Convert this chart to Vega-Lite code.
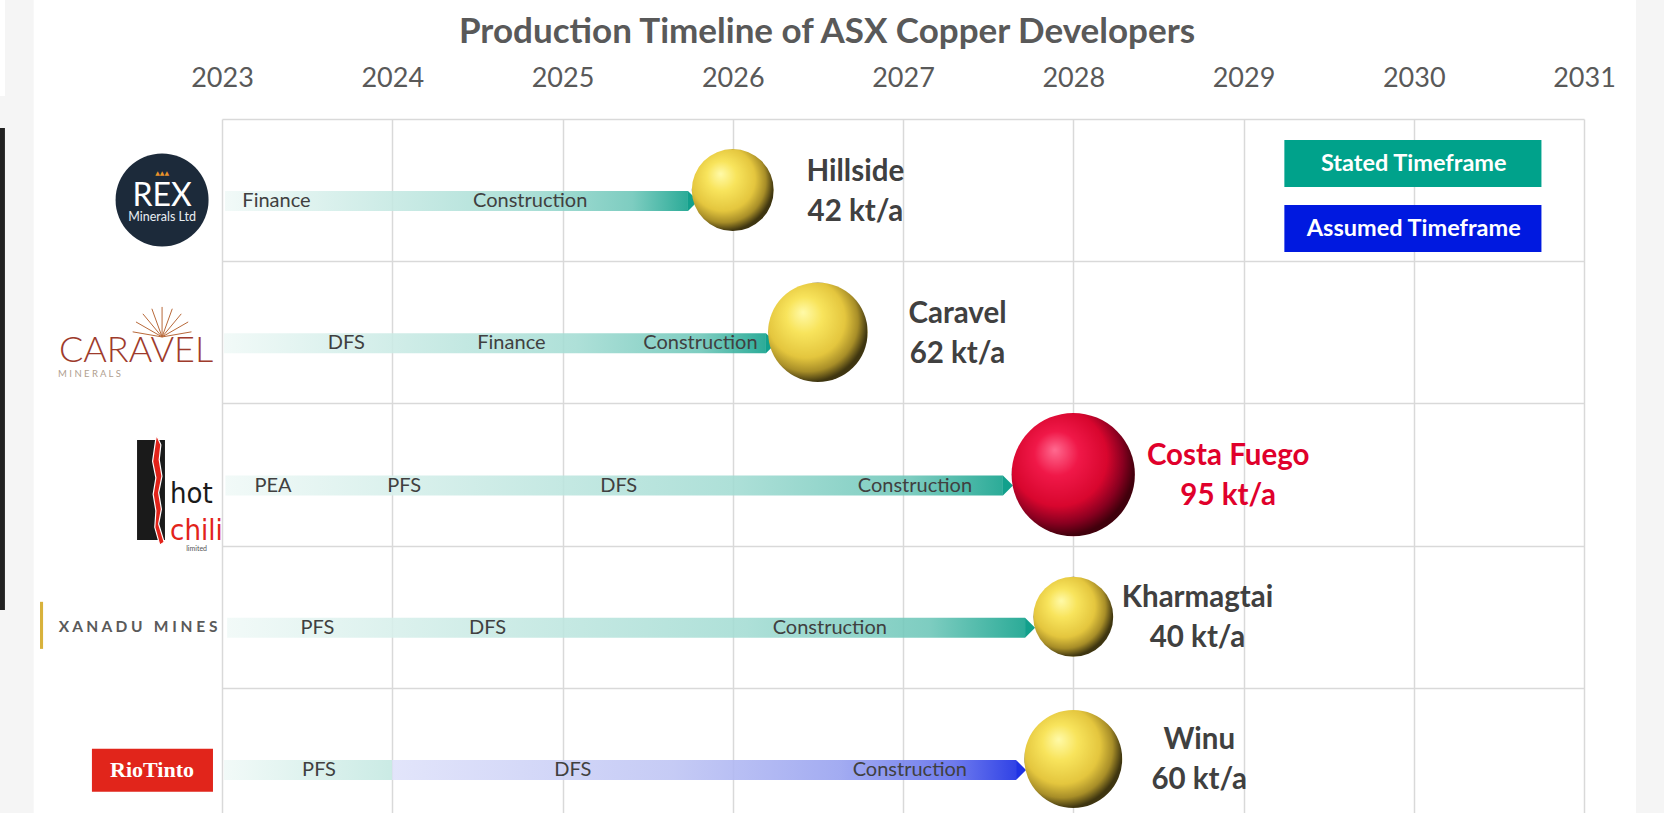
{
  "$schema": "https://vega.github.io/schema/vega-lite/v6.json",
  "width": 1362,
  "height": 694,
  "autosize": {"type": "none"},
  "padding": {"left": 222, "top": 119, "right": 80, "bottom": 0},
  "background": "#ffffff",
  "title": {
    "text": "Production Timeline of ASX Copper Developers",
    "font": "Lato", "fontSize": 35, "fontWeight": "bold", "color": "#595959",
    "anchor": "middle", "dx": -76, "offset": -78, "baseline": "alphabetic"
  },
  "config": {"view": {"stroke": null}, "font": "Lato"},
  "datasets": {
    "projects": [
      {"company": "Rex Minerals", "project": "Hillside", "capacity": 42, "row": 0.5, "year": 2026.0, "label_year": 2026.72, "label": "Hillside\n42 kt/a"},
      {"company": "Caravel Minerals", "project": "Caravel", "capacity": 62, "row": 1.5, "year": 2026.5, "label_year": 2027.32, "label": "Caravel\n62 kt/a"},
      {"company": "Hot Chili", "project": "Costa Fuego", "capacity": 95, "row": 2.5, "year": 2028.0, "label_year": 2028.91, "label": "Costa Fuego\n95 kt/a"},
      {"company": "Xanadu Mines", "project": "Kharmagtai", "capacity": 40, "row": 3.5, "year": 2028.0, "label_year": 2028.73, "label": "Kharmagtai\n40 kt/a"},
      {"company": "Rio Tinto", "project": "Winu", "capacity": 60, "row": 4.5, "year": 2028.0, "label_year": 2028.74, "label": "Winu\n60 kt/a"}
    ],
    "segments": [
      {"project": "Hillside", "row": 0.5, "start": 2023.018, "end": 2025.737, "kind": "stated"},
      {"project": "Caravel", "row": 1.5, "start": 2023.012, "end": 2026.195, "kind": "stated"},
      {"project": "Costa Fuego", "row": 2.5, "start": 2023.02, "end": 2027.587, "kind": "stated"},
      {"project": "Kharmagtai", "row": 3.5, "start": 2023.03, "end": 2027.717, "kind": "stated"},
      {"project": "Winu", "row": 4.5, "start": 2023.012, "end": 2024.0, "kind": "stated_part"},
      {"project": "Winu", "row": 4.5, "start": 2024.0, "end": 2027.664, "kind": "assumed"}
    ],
    "phases": [
      {"project": "Hillside", "row": 0.5, "phase": "Finance", "x": 2023.32},
      {"project": "Hillside", "row": 0.5, "phase": "Construction", "x": 2024.81},
      {"project": "Caravel", "row": 1.5, "phase": "DFS", "x": 2023.73},
      {"project": "Caravel", "row": 1.5, "phase": "Finance", "x": 2024.70},
      {"project": "Caravel", "row": 1.5, "phase": "Construction", "x": 2025.81},
      {"project": "Costa Fuego", "row": 2.5, "phase": "PEA", "x": 2023.30},
      {"project": "Costa Fuego", "row": 2.5, "phase": "PFS", "x": 2024.07},
      {"project": "Costa Fuego", "row": 2.5, "phase": "DFS", "x": 2025.33},
      {"project": "Costa Fuego", "row": 2.5, "phase": "Construction", "x": 2027.07},
      {"project": "Kharmagtai", "row": 3.5, "phase": "PFS", "x": 2023.56},
      {"project": "Kharmagtai", "row": 3.5, "phase": "DFS", "x": 2024.56},
      {"project": "Kharmagtai", "row": 3.5, "phase": "Construction", "x": 2026.57},
      {"project": "Winu", "row": 4.5, "phase": "PFS", "x": 2023.57},
      {"project": "Winu", "row": 4.5, "phase": "DFS", "x": 2025.06},
      {"project": "Winu", "row": 4.5, "phase": "Construction", "x": 2027.04}
    ]
  },
  "layer": [
    {
      "data": {"values": [{}]},
      "mark": {"type": "rect", "fill": "#f5f5f5"},
      "encoding": {
        "x": {"datum": 2021.4, "type": "quantitative", "title": null},
        "x2": {"datum": 2021.894},
        "y": {"datum": -0.8366, "type": "quantitative", "title": null},
        "y2": {"datum": 5.2}
      }
    },
    {
      "data": {"values": [{}]},
      "mark": {"type": "rect", "fill": "#f5f5f5"},
      "encoding": {
        "x": {"datum": 2031.305, "type": "quantitative", "title": null},
        "x2": {"datum": 2031.7},
        "y": {"datum": -0.8366, "type": "quantitative", "title": null},
        "y2": {"datum": 5.2}
      }
    },
    {
      "data": {"values": [{}]},
      "mark": {"type": "rect", "fill": "#ffffff"},
      "encoding": {
        "x": {"datum": 2021.4, "type": "quantitative", "title": null},
        "x2": {"datum": 2021.725},
        "y": {"datum": -0.8366, "type": "quantitative", "title": null},
        "y2": {"datum": -0.162}
      }
    },
    {
      "data": {"values": [{}]},
      "mark": {"type": "rect", "fill": "#222222"},
      "encoding": {
        "x": {"datum": 2021.4, "type": "quantitative", "title": null},
        "x2": {"datum": 2021.725},
        "y": {"datum": 0.063, "type": "quantitative", "title": null},
        "y2": {"datum": 3.452}
      }
    },
    {
      "data": {"name": "segments"},
      "transform": [{"filter": "datum.kind === 'stated'"}],
      "mark": {
        "type": "rect", "yOffset": 1, "y2Offset": 21, "opacity": 0.88,
        "fill": {"gradient": "linear", "x1": 0, "y1": 0, "x2": 1, "y2": 0,
          "stops": [
            {"offset": 0, "color": "#f0f9f7"},
            {"offset": 0.35, "color": "#c6e9e3"},
            {"offset": 0.65, "color": "#a3dcd3"},
            {"offset": 0.88, "color": "#6cc6b8"},
            {"offset": 1, "color": "#0fa08a"}
          ]}
      },
      "encoding": {
        "x": {
          "field": "start", "type": "quantitative", "title": null,
          "scale": {"domain": [2023, 2031], "nice": false, "zero": false},
          "axis": {
            "orient": "top", "values": [2023, 2024, 2025, 2026, 2027, 2028, 2029, 2030, 2031],
            "format": "d", "labelFont": "Lato", "labelFontSize": 27, "labelColor": "#595959",
            "labelBaseline": "alphabetic", "labelPadding": 33, "ticks": false, "tickSize": 0,
            "domain": false, "grid": true, "gridColor": "#d9d9d9", "gridWidth": 1.5,
            "labelFlush": false, "labelOverlap": false, "title": null
          }
        },
        "x2": {"field": "end"},
        "y": {
          "field": "row", "type": "quantitative", "title": null,
          "scale": {"domain": [0, 4.88], "reverse": true, "nice": false, "zero": false},
          "axis": {
            "values": [0, 1, 2, 3, 4], "labels": false, "ticks": false, "tickSize": 0,
            "domain": false, "grid": true, "gridColor": "#d9d9d9", "gridWidth": 1.5, "title": null
          }
        },
        "y2": {"field": "row"}
      }
    },
    {
      "data": {"name": "segments"},
      "transform": [{"filter": "datum.kind === 'stated_part'"}],
      "mark": {
        "type": "rect", "yOffset": 1, "y2Offset": 21, "opacity": 0.88,
        "fill": {"gradient": "linear", "x1": 0, "y1": 0, "x2": 1, "y2": 0,
          "stops": [
            {"offset": 0, "color": "#f0f9f7"},
            {"offset": 1, "color": "#c3e8e1"}
          ]}
      },
      "encoding": {
        "x": {"field": "start", "type": "quantitative", "title": null},
        "x2": {"field": "end"},
        "y": {"field": "row", "type": "quantitative", "title": null},
        "y2": {"field": "row"}
      }
    },
    {
      "data": {"name": "segments"},
      "transform": [{"filter": "datum.kind === 'assumed'"}],
      "mark": {
        "type": "rect", "yOffset": 1, "y2Offset": 21, "opacity": 0.9,
        "fill": {"gradient": "linear", "x1": 0, "y1": 0, "x2": 1, "y2": 0,
          "stops": [
            {"offset": 0, "color": "#dfe2fa"},
            {"offset": 0.45, "color": "#bfc5f4"},
            {"offset": 0.72, "color": "#98a2f0"},
            {"offset": 0.9, "color": "#5e6cec"},
            {"offset": 1, "color": "#1a2ee3"}
          ]}
      },
      "encoding": {
        "x": {"field": "start", "type": "quantitative", "title": null},
        "x2": {"field": "end"},
        "y": {"field": "row", "type": "quantitative", "title": null},
        "y2": {"field": "row"}
      }
    },
    {
      "data": {"name": "segments"},
      "transform": [{"filter": "datum.kind !== 'stated_part'"}],
      "mark": {
        "type": "point", "shape": "M-0.5,-1L0.5,0L-0.5,1Z", "size": 400,
        "filled": true, "strokeWidth": 0, "opacity": 1, "xOffset": 5, "yOffset": 11
      },
      "encoding": {
        "x": {"field": "end", "type": "quantitative", "title": null},
        "y": {"field": "row", "type": "quantitative", "title": null},
        "fill": {"condition": {"test": "datum.kind === 'assumed'", "value": "#1f33e4"}, "value": "#12a08c"}
      }
    },
    {
      "data": {"name": "phases"},
      "mark": {"type": "text", "font": "Lato", "fontSize": 20, "color": "#404040", "align": "center", "baseline": "middle", "dy": 11},
      "encoding": {
        "x": {"field": "x", "type": "quantitative", "title": null},
        "y": {"field": "row", "type": "quantitative", "title": null},
        "text": {"field": "phase"}
      }
    },
    {
      "data": {"name": "projects"},
      "transform": [{"filter": "datum.project !== 'Costa Fuego'"}],
      "mark": {
        "type": "point", "shape": "circle", "filled": true, "strokeWidth": 0, "opacity": 1,
        "fill": {"gradient": "radial", "x1": 0.35, "y1": 0.3, "r1": 0, "x2": 0.4, "y2": 0.4, "r2": 0.6,
          "stops": [
            {"offset": 0, "color": "#fffaa8"},
            {"offset": 0.3, "color": "#f8e45c"},
            {"offset": 0.65, "color": "#e4c63e"},
            {"offset": 0.85, "color": "#a88e28"},
            {"offset": 1, "color": "#3e3510"}
          ]}
      },
      "encoding": {
        "x": {"field": "year", "type": "quantitative", "title": null},
        "y": {"field": "row", "type": "quantitative", "title": null},
        "size": {"field": "capacity", "type": "quantitative", "scale": {"type": "linear", "domain": [0, 100], "range": [0, 16000]}, "legend": null}
      }
    },
    {
      "data": {"name": "projects"},
      "transform": [{"filter": "datum.project === 'Costa Fuego'"}],
      "mark": {
        "type": "point", "shape": "circle", "filled": true, "strokeWidth": 0, "opacity": 1,
        "fill": {"gradient": "radial", "x1": 0.35, "y1": 0.3, "r1": 0, "x2": 0.4, "y2": 0.4, "r2": 0.6,
          "stops": [
            {"offset": 0, "color": "#ff6a90"},
            {"offset": 0.3, "color": "#f01848"},
            {"offset": 0.65, "color": "#d8062e"},
            {"offset": 0.85, "color": "#8a0020"},
            {"offset": 1, "color": "#40000c"}
          ]}
      },
      "encoding": {
        "x": {"field": "year", "type": "quantitative", "title": null},
        "y": {"field": "row", "type": "quantitative", "title": null},
        "size": {"field": "capacity", "type": "quantitative", "scale": {"type": "linear", "domain": [0, 100], "range": [0, 16000]}, "legend": null}
      }
    },
    {
      "data": {"name": "projects"},
      "mark": {"type": "text", "font": "Lato", "fontSize": 29.5, "fontWeight": "bold", "align": "center", "baseline": "middle", "lineBreak": "\n", "lineHeight": 40, "dy": -18.5},
      "encoding": {
        "x": {"field": "label_year", "type": "quantitative", "title": null},
        "y": {"field": "row", "type": "quantitative", "title": null},
        "text": {"field": "label"},
        "fill": {"condition": {"test": "datum.project === 'Costa Fuego'", "value": "#e0002b"}, "value": "#404040"}
      }
    },
    {
      "data": {"values": [{}]},
      "mark": {"type": "rect", "fill": "#00a28b"},
      "encoding": {
        "x": {"datum": 2029.24, "type": "quantitative", "title": null},
        "x2": {"datum": 2030.75},
        "y": {"datum": 0.148, "type": "quantitative", "title": null},
        "y2": {"datum": 0.478}
      }
    },
    {
      "data": {"values": [{}]},
      "mark": {"type": "rect", "fill": "#0019e0"},
      "encoding": {
        "x": {"datum": 2029.24, "type": "quantitative", "title": null},
        "x2": {"datum": 2030.75},
        "y": {"datum": 0.605, "type": "quantitative", "title": null},
        "y2": {"datum": 0.935}
      }
    },
    {
      "data": {"values": [{"legend": "Stated Timeframe", "slot": 0.313}, {"legend": "Assumed Timeframe", "slot": 0.77}]},
      "mark": {"type": "text", "font": "Lato", "fontSize": 23.5, "fontWeight": "bold", "color": "#ffffff", "align": "center", "baseline": "middle"},
      "encoding": {
        "x": {"datum": 2030.0, "type": "quantitative", "title": null},
        "y": {"field": "slot", "type": "quantitative", "title": null},
        "text": {"field": "legend"}
      }
    },
    {
      "data": {"values": [{}]},
      "mark": {"type": "point", "shape": "circle", "filled": true, "fill": "#1c2a3a", "strokeWidth": 0, "opacity": 1, "size": 8650},
      "encoding": {
        "x": {"datum": 2022.648, "type": "quantitative", "title": null},
        "y": {"datum": 0.569, "type": "quantitative", "title": null}
      }
    },
    {
      "data": {"values": [{"t": "REX"}]},
      "mark": {"type": "text", "font": "Lato", "fontSize": 32, "color": "#ffffff", "align": "center", "baseline": "alphabetic", "dy": 6},
      "encoding": {
        "x": {"datum": 2022.648, "type": "quantitative", "title": null},
        "y": {"datum": 0.569, "type": "quantitative", "title": null},
        "text": {"field": "t"}
      }
    },
    {
      "data": {"values": [{"t": "Minerals Ltd"}]},
      "mark": {"type": "text", "font": "Lato", "fontSize": 12.5, "color": "#e8eef2", "align": "center", "baseline": "alphabetic", "dy": 21},
      "encoding": {
        "x": {"datum": 2022.648, "type": "quantitative", "title": null},
        "y": {"datum": 0.569, "type": "quantitative", "title": null},
        "text": {"field": "t"}
      }
    },
    {
      "data": {"values": [{"t": "▲▲▲"}]},
      "mark": {"type": "text", "font": "DejaVu Sans", "fontSize": 6, "color": "#e8932a", "align": "center", "baseline": "middle", "dy": -27},
      "encoding": {
        "x": {"datum": 2022.648, "type": "quantitative", "title": null},
        "y": {"datum": 0.569, "type": "quantitative", "title": null},
        "text": {"field": "t"}
      }
    },
    {
      "data": {"values": [{}]},
      "mark": {"type": "point", "shape": "M0,0.5L-0.98,0.33M0,0.5L-0.87,0M0,0.5L-0.64,-0.27M0,0.5L-0.34,-0.44M0,0.5L0,-0.5M0,0.5L0.34,-0.44M0,0.5L0.64,-0.27M0,0.5L0.87,0M0,0.5L0.98,0.33", "size": 3600, "filled": false, "stroke": "#b8693a", "strokeWidth": 1, "opacity": 1},
      "encoding": {
        "x": {"datum": 2022.648, "type": "quantitative", "title": null},
        "y": {"datum": 1.427, "type": "quantitative", "title": null}
      }
    },
    {
      "data": {"values": [{"t": "CARAVEL"}]},
      "mark": {"type": "text", "font": "Lato", "fontSize": 36, "fontWeight": 300, "color": "#9e3b2c", "align": "center", "baseline": "alphabetic"},
      "encoding": {
        "x": {"datum": 2022.495, "type": "quantitative", "title": null},
        "y": {"datum": 1.708, "type": "quantitative", "title": null},
        "text": {"field": "t"}
      }
    },
    {
      "data": {"values": [{"t": "M I N E R A L S"}]},
      "mark": {"type": "text", "font": "Lato", "fontSize": 9.5, "color": "#b0a090", "align": "left", "baseline": "middle"},
      "encoding": {
        "x": {"datum": 2022.037, "type": "quantitative", "title": null},
        "y": {"datum": 1.79, "type": "quantitative", "title": null},
        "text": {"field": "t"}
      }
    },
    {
      "data": {"values": [{}]},
      "mark": {"type": "rect", "fill": "#1a1a1a"},
      "encoding": {
        "x": {"datum": 2022.501, "type": "quantitative", "title": null},
        "x2": {"datum": 2022.665},
        "y": {"datum": 2.257, "type": "quantitative", "title": null},
        "y2": {"datum": 2.96}
      }
    },
    {
      "data": {"values": [{}]},
      "mark": {"type": "point", "shape": "M0.0,-1L0.08,-0.82L0.05,-0.55L0.1,-0.25L0.04,0.05L0.09,0.35L0.04,0.62L0.14,0.95L0.06,1L-0.03,0.68L-0.01,0.38L-0.06,0.08L-0.01,-0.22L-0.07,-0.52L-0.03,-0.8Z", "size": 12100, "filled": true, "fill": "#e2231a", "stroke": "#ffffff", "strokeWidth": 1.2, "opacity": 1},
      "encoding": {
        "x": {"datum": 2022.615, "type": "quantitative", "title": null},
        "y": {"datum": 2.608, "type": "quantitative", "title": null}
      }
    },
    {
      "data": {"values": [{"t": "hot"}]},
      "mark": {"type": "text", "font": "'DejaVu Sans Condensed', Roboto, sans-serif", "fontSize": 29, "color": "#1a1a1a", "align": "left", "baseline": "alphabetic"},
      "encoding": {
        "x": {"datum": 2022.695, "type": "quantitative", "title": null},
        "y": {"datum": 2.699, "type": "quantitative", "title": null},
        "text": {"field": "t"}
      }
    },
    {
      "data": {"values": [{"t": "chili"}]},
      "mark": {"type": "text", "font": "'DejaVu Sans Condensed', Roboto, sans-serif", "fontSize": 29, "color": "#e2231a", "align": "left", "baseline": "alphabetic"},
      "encoding": {
        "x": {"datum": 2022.695, "type": "quantitative", "title": null},
        "y": {"datum": 2.96, "type": "quantitative", "title": null},
        "text": {"field": "t"}
      }
    },
    {
      "data": {"values": [{"t": "limited"}]},
      "mark": {"type": "text", "font": "Lato", "fontSize": 7, "color": "#555555", "align": "right", "baseline": "alphabetic"},
      "encoding": {
        "x": {"datum": 2022.912, "type": "quantitative", "title": null},
        "y": {"datum": 3.035, "type": "quantitative", "title": null},
        "text": {"field": "t"}
      }
    },
    {
      "data": {"values": [{}]},
      "mark": {"type": "rect", "fill": "#d8b23c"},
      "encoding": {
        "x": {"datum": 2021.931, "type": "quantitative", "title": null},
        "x2": {"datum": 2021.949},
        "y": {"datum": 3.395, "type": "quantitative", "title": null},
        "y2": {"datum": 3.726}
      }
    },
    {
      "data": {"values": [{"t": "X A N A D U \u00a0 M I N E S"}]},
      "mark": {"type": "text", "font": "Lato", "fontSize": 15.5, "fontWeight": "bold", "color": "#5a5a5a", "align": "center", "baseline": "middle"},
      "encoding": {
        "x": {"datum": 2022.507, "type": "quantitative", "title": null},
        "y": {"datum": 3.571, "type": "quantitative", "title": null},
        "text": {"field": "t"}
      }
    },
    {
      "data": {"values": [{}]},
      "mark": {"type": "rect", "fill": "#e1251b"},
      "encoding": {
        "x": {"datum": 2022.236, "type": "quantitative", "title": null},
        "x2": {"datum": 2022.947},
        "y": {"datum": 4.429, "type": "quantitative", "title": null},
        "y2": {"datum": 4.731}
      }
    },
    {
      "data": {"values": [{"t": "RioTinto"}]},
      "mark": {"type": "text", "font": "Liberation Serif", "fontSize": 22, "fontWeight": "bold", "color": "#ffffff", "align": "center", "baseline": "middle"},
      "encoding": {
        "x": {"datum": 2022.589, "type": "quantitative", "title": null},
        "y": {"datum": 4.576, "type": "quantitative", "title": null},
        "text": {"field": "t"}
      }
    }
  ]
}
